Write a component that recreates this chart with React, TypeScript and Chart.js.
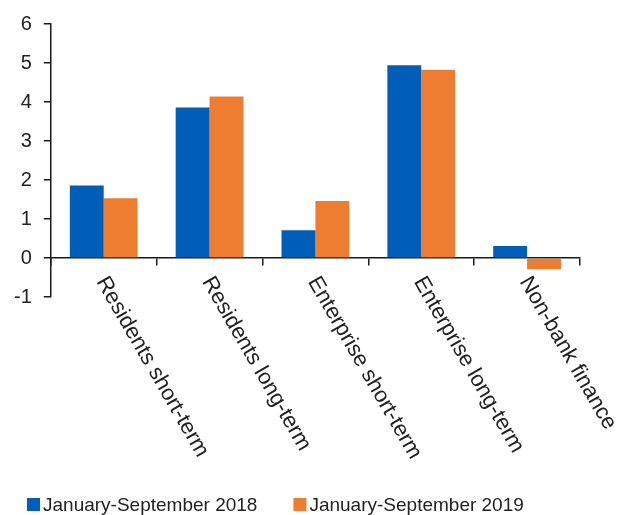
import React, { useEffect, useRef } from "react";
import { Chart, registerables } from "chart.js";

Chart.register(...registerables);

const categories = [
  "Residents short-term",
  "Residents long-term",
  "Enterprise short-term",
  "Enterprise long-term",
  "Non-bank finance",
];
const series2018 = [1.86, 3.86, 0.71, 4.94, 0.31];
const series2019 = [1.53, 4.14, 1.46, 4.83, -0.29];
const seriesLabels = ["January-September 2018", "January-September 2019"];
const seriesColors = ["#005EB8", "#ED7D31"];
const yTickValues = [-1, 0, 1, 2, 3, 4, 5, 6];

const FONT = "'Liberation Sans', Arial, sans-serif";
const TEXT = "#222222";
const AXIS = "#1a1a1a";

const rotatedLabels = {
  id: "rotatedLabels",
  afterDraw(chart: any) {
    const { ctx, scales } = chart;
    const x = scales.x;
    const y = scales.y;
    const y0 = y.getPixelForValue(0);
    ctx.save();
    ctx.font = `22px ${FONT}`;
    ctx.fillStyle = TEXT;
    ctx.textAlign = "left";
    ctx.textBaseline = "top";
    const angle = (60 * Math.PI) / 180;
    categories.forEach((c, i) => {
      const cx = x.getPixelForValue(i);
      ctx.save();
      ctx.translate(cx + 7, y0 + 15);
      ctx.rotate(angle);
      ctx.fillText(c, 0, 0);
      ctx.restore();
    });
    ctx.restore();
  },
};

const customLegend = {
  id: "customLegend",
  afterDraw(chart: any) {
    const { ctx } = chart;
    ctx.save();
    ctx.font = `19px ${FONT}`;
    ctx.textBaseline = "middle";
    ctx.textAlign = "left";
    const box = 13;
    const gap = 3;
    const spacing = 36;
    let xPos = 27;
    const yMid = 504.5;
    seriesLabels.forEach((l, i) => {
      const w = ctx.measureText(l).width;
      ctx.fillStyle = seriesColors[i];
      ctx.fillRect(xPos, yMid - box / 2, box, box);
      ctx.fillStyle = TEXT;
      ctx.fillText(l, xPos + box + gap, yMid + 1);
      xPos += box + gap + w + spacing;
    });
    ctx.restore();
  },
};

export default function App() {
  const ref = useRef<HTMLCanvasElement | null>(null);
  useEffect(() => {
    if (!ref.current) return;
    const chart = new Chart(ref.current, {
      type: "bar",
      data: {
        labels: categories,
        datasets: [
          {
            label: seriesLabels[0],
            data: series2018,
            backgroundColor: seriesColors[0],
            categoryPercentage: 0.64,
            barPercentage: 1.0,
          },
          {
            label: seriesLabels[1],
            data: series2019,
            backgroundColor: seriesColors[1],
            categoryPercentage: 0.64,
            barPercentage: 1.0,
          },
        ],
      },
      options: {
        responsive: false,
        animation: false,
        devicePixelRatio: 1,
        layout: { padding: { left: 2, top: 8, right: 41, bottom: 218 } },
        plugins: {
          legend: { display: false },
          tooltip: { enabled: false },
        },
        scales: {
          x: {
            position: { y: 0 } as any,
            offset: true,
            grid: {
              display: true,
              drawOnChartArea: false,
              offset: true,
              tickLength: 7,
              color: AXIS,
              lineWidth: 1.5,
            },
            border: { display: true, color: AXIS, width: 1.5 },
            ticks: { display: false },
          },
          y: {
            min: yTickValues[0],
            max: yTickValues[yTickValues.length - 1],
            ticks: {
              stepSize: 1,
              font: { family: FONT, size: 20 },
              color: TEXT,
              padding: 12,
            },
            grid: {
              drawOnChartArea: false,
              tickLength: 7,
              color: AXIS,
              lineWidth: 1.5,
            },
            border: { display: true, color: AXIS, width: 1.5 },
          },
        },
      },
      plugins: [rotatedLabels, customLegend],
    });
    return () => chart.destroy();
  }, []);
  return (
    <div style={{ position: "absolute", left: 0, top: 0, width: 621, height: 515, background: "#fff" }}>
      <canvas ref={ref} width={621} height={515} />
    </div>
  );
}
